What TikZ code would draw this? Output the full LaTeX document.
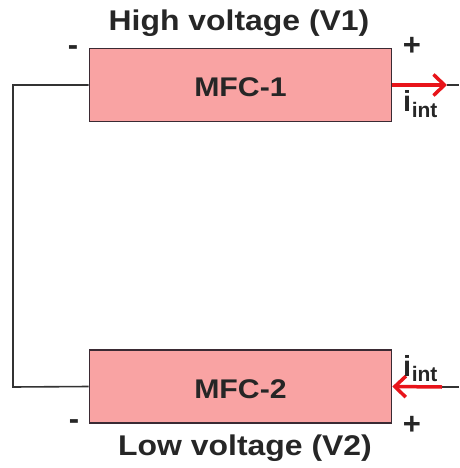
\documentclass[tikz,border=0pt]{standalone}
\usepackage{fontspec}
\setmainfont{Liberation Sans}
\usetikzlibrary{arrows.meta}
\definecolor{boxfill}{HTML}{F9A3A3}
\definecolor{boxline}{HTML}{3A2A33}
\definecolor{wire}{HTML}{333333}
\definecolor{cur}{HTML}{E8141A}
\definecolor{txt}{HTML}{262626}
\newcommand{\iint}{{\fontsize{29}{30}\selectfont\bfseries i}\kern0.5pt\raisebox{-5.5pt}{\fontsize{21}{22}\selectfont\bfseries int}}
\begin{document}
\begin{tikzpicture}[x=1pt,y=-1pt,
  mfc/.style={draw=boxline, line width=1.6pt, fill=boxfill, minimum width=302pt, minimum height=73pt, inner sep=0pt},
  boxtxt/.style={text=txt, font=\fontsize{27}{30}\selectfont\bfseries, xscale=1.12, inner sep=0pt},
  bigtxt/.style={text=txt, font=\fontsize{28.5}{30}\selectfont\bfseries, xscale=1.12, inner sep=0pt},
  sign/.style={text=txt, font=\fontsize{31}{32}\selectfont\bfseries, inner sep=0pt},
  wireline/.style={draw=wire, line width=1.6pt},
  curline/.style={draw=cur, line width=3.5pt, -{Straight Barb[length=11pt,width=21pt]}},
  curlab/.style={text=txt, inner sep=0pt}
]
\useasboundingbox (0,0) rectangle (459,468);
\node[mfc] (m1) at (240.5,85) {};
\node[boxtxt] (t1) at (240.5,87) {MFC-1};
\node[mfc] (m2) at (240.5,386.5) {};
\node[boxtxt] (t2) at (240.5,389) {MFC-2};
\node[bigtxt] (hv) at (239,23) {High voltage (V1)};
\node[bigtxt] (lv) at (245,448) {Low voltage (V2)};
\node[sign] (m1minus) at (73,51) {-};
\node[sign] (m1plus) at (412,46) {+};
\node[sign] (m2minus) at (74,425) {-};
\node[sign] (m2plus) at (412,425) {+};
\coordinate (lt) at (13,85);
\coordinate (lb) at (13,387);
\coordinate (r1) at (459,85);
\coordinate (a1) at (447,85);
\coordinate (r2) at (459,387);
\coordinate (a2) at (442,387);
\draw[wireline] (m1.west) -- (lt) -- (lb) -- (m2.west);
\draw[wireline] (a1) -- (r1);
\draw[wireline] (r2) -- (a2);
\draw[curline] (m1.east) -- (a1);
\draw[curline] (a2) -- (m2.east);
\node[curlab, anchor=base west] (i1) at (403,112) {\iint};
\node[curlab, anchor=base west] (i2) at (403,376) {\iint};
\end{tikzpicture}
\end{document}
